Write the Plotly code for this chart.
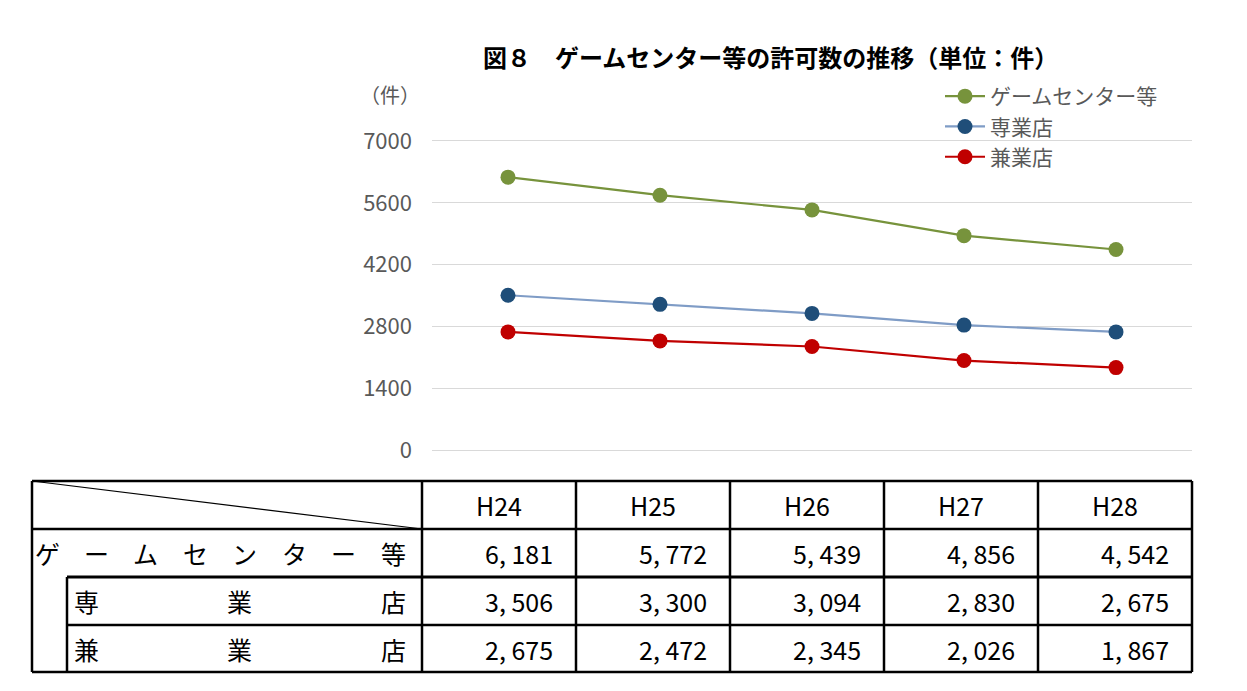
import plotly.graph_objects as go

W, H = 1247, 691
OFF = 8  # page body margin

years = ["H24", "H25", "H26", "H27", "H28"]
series_names = ["ゲームセンター等", "専業店", "兼業店"]
game_center = [6181, 5772, 5439, 4856, 4542]
dedicated = [3506, 3300, 3094, 2830, 2675]
combined = [2675, 2472, 2345, 2026, 1867]
y_ticks = [0, 1400, 2800, 4200, 5600, 7000]

title_text = "図８　ゲームセンター等の許可数の推移（単位：件）"
unit_text = "（件）"

line_colors = ["#77933c", "#7f9cc6", "#c00000"]
marker_colors = ["#77933c", "#1f4e79", "#c00000"]

FONT = "Noto Sans CJK JP"


def px(x):
    return (x - OFF) / W


def py(y):
    return 1 - (y - OFF) / H


fig = go.Figure()
for name, vals, lc, mc in zip(series_names, [game_center, dedicated, combined], line_colors, marker_colors):
    fig.add_trace(go.Scatter(
        x=years, y=vals, name=name, mode="lines+markers",
        line=dict(color=lc, width=2.2),
        marker=dict(color=mc, size=15),
    ))

shapes = []
annotations = []

# Title and unit
annotations.append(dict(x=px(771), y=py(57), xref="paper", yref="paper", text="<b>" + title_text + "</b>",
                        showarrow=False, font=dict(family=FONT, size=24, color="#000000"),
                        xanchor="center", yanchor="middle"))
annotations.append(dict(x=px(390), y=py(95), xref="paper", yref="paper", text=unit_text,
                        showarrow=False, font=dict(family=FONT, size=20, color="#595959"),
                        xanchor="center", yanchor="middle"))

# ---- Table ----
col_edges = [32, 422, 576, 730, 884, 1038, 1192]
row_edges = [481, 529, 577, 625, 672]
indent_x = 67


def line(x0, y0, x1, y1, w=2.5):
    shapes.append(dict(type="line", xref="paper", yref="paper",
                       x0=px(x0), y0=py(y0), x1=px(x1), y1=py(y1),
                       line=dict(color="#000000", width=w)))


line(col_edges[0], row_edges[0], col_edges[-1], row_edges[0])
line(col_edges[0], row_edges[-1], col_edges[-1], row_edges[-1])
line(col_edges[0], row_edges[0], col_edges[0], row_edges[-1])
line(col_edges[-1], row_edges[0], col_edges[-1], row_edges[-1])
line(col_edges[0], row_edges[1], col_edges[-1], row_edges[1])
line(indent_x, row_edges[2], col_edges[-1], row_edges[2], 3)
line(indent_x, row_edges[3], col_edges[-1], row_edges[3])
line(indent_x, row_edges[2], indent_x, row_edges[-1])
for cx in col_edges[1:-1]:
    line(cx, row_edges[0], cx, row_edges[-1])
line(col_edges[0], row_edges[0], col_edges[1], row_edges[1], 1.2)

tfont = dict(family=FONT, size=25, color="#000000")


def row_mid(i):
    return (row_edges[i] + row_edges[i + 1]) / 2


for j, yr in enumerate(years):
    cx = (col_edges[j + 1] + col_edges[j + 2]) / 2
    annotations.append(dict(x=px(cx), y=py(row_mid(0)), xref="paper", yref="paper", text=yr,
                            showarrow=False, font=tfont, xanchor="center", yanchor="middle"))


def distribute(label, left, right, row):
    chars = list(label)
    n = len(chars)
    for k, ch in enumerate(chars):
        cx = left + (right - left) * (k / (n - 1)) if n > 1 else (left + right) / 2
        annotations.append(dict(x=px(cx), y=py(row_mid(row)), xref="paper", yref="paper", text=ch,
                                showarrow=False, font=tfont, xanchor="center", yanchor="middle"))


distribute(series_names[0], 47, 393, 1)
distribute("専業店", 86, 393, 2)
distribute("兼業店", 86, 393, 3)


def fmt(v):
    return f"{v:,}".replace(",", ", ")


for i, vals in enumerate([game_center, dedicated, combined]):
    for j, v in enumerate(vals):
        rx = col_edges[j + 2] - 21
        annotations.append(dict(x=px(rx), y=py(row_mid(i + 1)), xref="paper", yref="paper",
                                text=fmt(v), showarrow=False, font=tfont,
                                xanchor="right", yanchor="middle"))

# y range padded slightly so the 7000 gridline is drawn
ypad = 40
dom_top = 141 - 62 * ypad / 1400
dom_bot = 450 + 62 * ypad / 1400

fig.update_layout(
    width=W, height=H,
    margin=dict(l=0, r=0, t=0, b=0, autoexpand=False),
    paper_bgcolor="white", plot_bgcolor="white",
    font=dict(family=FONT, color="#595959"),
    xaxis=dict(domain=[px(432), px(1192)], range=[-0.5, 4.5], showticklabels=False,
               showgrid=False, zeroline=False, showline=False, automargin=False),
    yaxis=dict(domain=[py(dom_bot), py(dom_top)], range=[-ypad, 7000 + ypad], tickvals=y_ticks,
               showgrid=True, gridcolor="#d9d9d9", gridwidth=1.2, zeroline=False,
               showline=False, ticklabelstandoff=19, automargin=False,
               tickfont=dict(family=FONT, size=22, color="#595959")),
    legend=dict(x=px(940), y=py(76), xanchor="left", yanchor="top",
                font=dict(family=FONT, size=21, color="#595959"),
                bgcolor="rgba(0,0,0,0)", tracegroupgap=0, itemwidth=40),
    showlegend=True,
    shapes=shapes,
    annotations=annotations,
)

fig.write_html("out.html")
